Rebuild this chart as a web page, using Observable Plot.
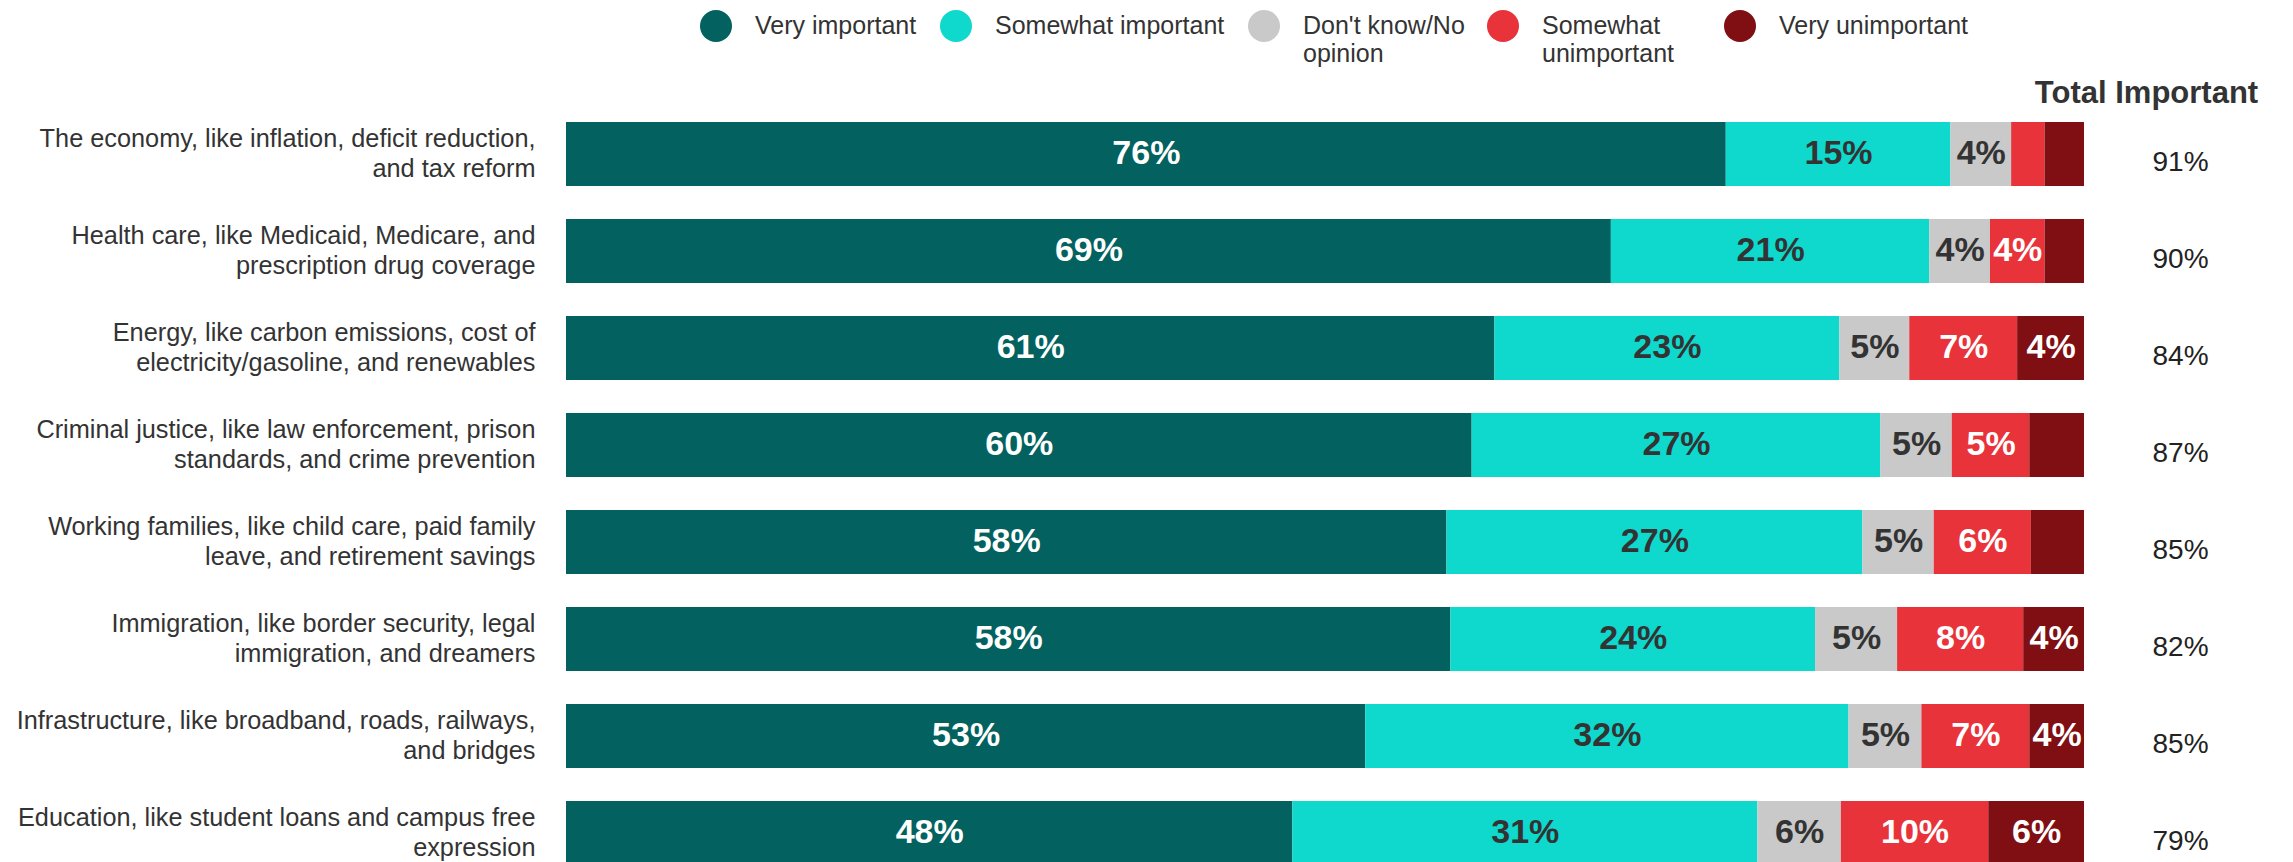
<!DOCTYPE html>
<html><head><meta charset="utf-8">
<script src="https://cdn.jsdelivr.net/npm/d3@7"></script>
<script src="https://cdn.jsdelivr.net/npm/@observablehq/plot@0.6"></script>
<style>
html,body{margin:0;padding:0;overflow:hidden;background:#fff;}
#wrap{position:relative;width:2293px;height:862px;font-family:"Liberation Sans",Arial,sans-serif;color:#333;}
#chart{position:absolute;left:0;top:0;}
#legend{position:absolute;left:0;top:0;width:2293px;height:80px;}
.item{position:absolute;top:0;}
.dot{position:absolute;top:9.5px;left:0;width:32px;height:32px;border-radius:50%;}
.lab{position:absolute;left:55px;top:12px;font-size:25px;line-height:27.5px;white-space:pre;color:#333;}
</style></head><body>
<div id="wrap"><div id="chart"></div><div id="legend"></div></div>
<script>
const categories = [
  "The economy, like inflation, deficit reduction,\nand tax reform",
  "Health care, like Medicaid, Medicare, and\nprescription drug coverage",
  "Energy, like carbon emissions, cost of\nelectricity/gasoline, and renewables",
  "Criminal justice, like law enforcement, prison\nstandards, and crime prevention",
  "Working families, like child care, paid family\nleave, and retirement savings",
  "Immigration, like border security, legal\nimmigration, and dreamers",
  "Infrastructure, like broadband, roads, railways,\nand bridges",
  "Education, like student loans and campus free\nexpression"
];
const series = ["Very important", "Somewhat important", "Don't know/No opinion", "Somewhat unimportant", "Very unimportant"];
const legendLabels = ["Very important", "Somewhat important", "Don't know/No\nopinion", "Somewhat\nunimportant", "Very unimportant"];
const colors = ["#03625F", "#0FD8CD", "#C9C9C9", "#E8333A", "#7F0F12"];

const veryImportant       = [76.4, 68.9, 61.1, 59.6, 58.0, 58.2, 52.6, 47.8];
const somewhatImportant   = [14.8, 21.0, 22.7, 26.9, 27.4, 24.0, 31.8, 30.6];
const dontKnow            = [4.0, 4.0, 4.6, 4.7, 4.7, 5.4, 4.8, 5.5];
const somewhatUnimportant = [2.2, 3.6, 7.1, 5.1, 6.4, 8.3, 7.1, 9.7];
const veryUnimportant     = [2.6, 2.6, 4.4, 3.6, 3.5, 4.0, 3.6, 6.3];
const totalImportant      = [91, 90, 84, 87, 85, 82, 85, 79];
// segments printed without a value label: [row, series]
const unlabeled = [[0, 3], [0, 4], [1, 4], [3, 4], [4, 4]];
const darkLabelSeries = ["Somewhat important", "Don't know/No opinion"];

const seriesValues = [veryImportant, somewhatImportant, dontKnow, somewhatUnimportant, veryUnimportant];
const hidden = new Set(unlabeled.map(([r, s]) => r + "," + s));
const rows = [];
categories.forEach((c, i) => {
  seriesValues.forEach((vals, j) => {
    rows.push({
      category: c,
      series: series[j],
      value: vals[i],
      label: hidden.has(i + "," + j) ? null : Math.round(vals[i]) + "%",
      dark: darkLabelSeries.includes(series[j])
    });
  });
});

const font = '"Liberation Sans", Arial, sans-serif';
const chart = Plot.plot({
  width: 2293,
  height: 884,
  marginLeft: 566,
  marginRight: 209,
  marginTop: 103,
  marginBottom: 0,
  style: {fontFamily: font, fontSize: "25px", color: "#333", background: "transparent"},
  x: {axis: null, domain: [0, 1]},
  y: {axis: null, domain: categories, paddingInner: 0.344, paddingOuter: 0.172},
  color: {domain: series, range: colors},
  marks: [
    Plot.barX(rows, Plot.stackX({x: "value", y: "category", fill: "series", offset: "normalize"})),
    Plot.text(rows, Plot.stackX({
      x: "value", y: "category", offset: "normalize",
      text: d => d.dark ? d.label : null,
      fill: "#333", fontWeight: "bold", fontSize: 34, dy: -1
    })),
    Plot.text(rows, Plot.stackX({
      x: "value", y: "category", offset: "normalize",
      text: d => d.dark ? null : d.label,
      fill: "#ffffff", fontWeight: "bold", fontSize: 34, dy: -1
    })),
    Plot.text(categories, {
      y: d => d, text: d => d, frameAnchor: "left", textAnchor: "end",
      dx: -31, dy: -2, fontSize: 25.3, lineHeight: 1.19, fill: "#333"
    }),
    Plot.text(categories, {
      y: d => d, text: (d, i) => totalImportant[i] + "%", frameAnchor: "right",
      textAnchor: "start", dx: 68, dy: 8, fontSize: 28, fill: "#222"
    }),
    Plot.text(["Total Important"], {
      text: d => d, frameAnchor: "top-right", textAnchor: "middle",
      dx: 62, dy: -23, fontSize: 31, fontWeight: "bold", fill: "#333"
    })
  ]
});
document.getElementById("chart").appendChild(chart);

const legendX = [700, 940, 1248, 1487, 1724];
const legend = document.getElementById("legend");
series.forEach((s, i) => {
  const item = document.createElement("div");
  item.className = "item";
  item.style.left = legendX[i] + "px";
  const dot = document.createElement("div");
  dot.className = "dot";
  dot.style.background = colors[i];
  const lab = document.createElement("div");
  lab.className = "lab";
  lab.textContent = legendLabels[i];
  item.appendChild(dot);
  item.appendChild(lab);
  legend.appendChild(item);
});
</script>
</body></html>
